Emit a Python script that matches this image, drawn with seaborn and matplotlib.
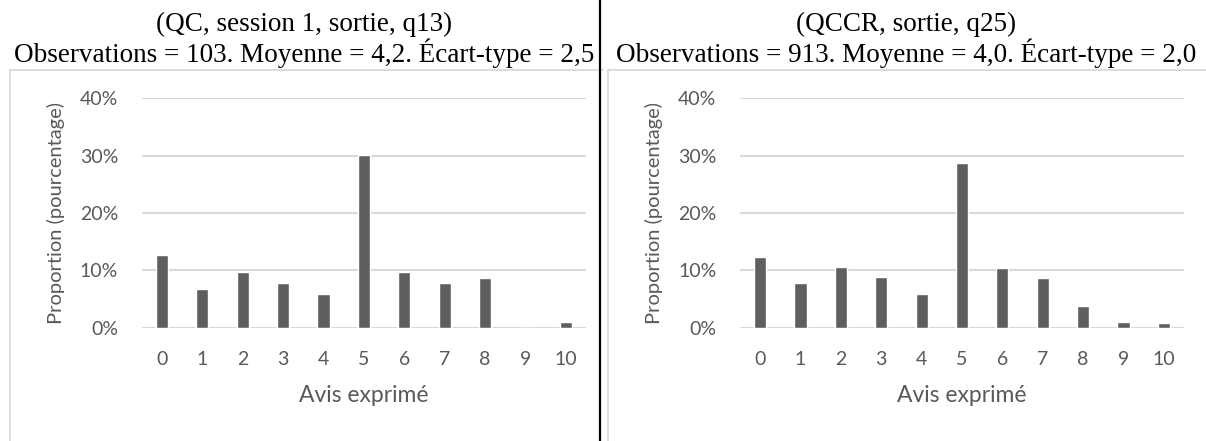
import numpy as np
import pandas as pd
import matplotlib
matplotlib.use('Agg')
import matplotlib.pyplot as plt
import seaborn as sns
from matplotlib.ticker import PercentFormatter
from matplotlib.lines import Line2D

# avis 0..10
avis = [str(i) for i in range(11)]

# proportions (en %)
qc_session1 = [12.6, 6.8, 9.7, 7.8, 5.8, 30.1, 9.7, 7.8, 8.7, 0.0, 0.97]
qccr_sortie = [12.3, 7.8, 10.6, 8.8, 5.8, 28.7, 10.4, 8.7, 3.8, 0.95, 0.85]

titres = ['(QC, session 1, sortie, q13)\nObservations = 103. Moyenne = 4,2. Écart-type = 2,5',
          '(QCCR, sortie, q25)\nObservations = 913. Moyenne = 4,0. Écart-type = 2,0']

sns.set_theme(style='white')
plt.rcParams['font.family'] = ['Lato', 'DejaVu Sans']

W, H = 1206, 441
fig = plt.figure(figsize=(W / 100, H / 100), dpi=100)

gris_txt = '#595959'
gris_grille = '#d9d9d9'
gris_barre = '#5f5f5f'

# cadres des deux graphiques
for x0, x1 in [(10, 603), (608, 1210)]:
    fig.add_artist(Line2D([x0 / W, x0 / W, x1 / W], [0, 1 - 70 / H, 1 - 70 / H],
                          transform=fig.transFigure, color=gris_grille, lw=1.3))

# séparateur
fig.add_artist(Line2D([600 / W, 600 / W], [0, 1], transform=fig.transFigure,
                      color='black', lw=1.6))

positions = [(141.7, 586), (740, 1184)]
series = [qc_session1, qccr_sortie]
centres = [304, 906]

for (xa, xb), vals, titre, cx in zip(positions, series, titres, centres):
    ax = fig.add_axes([xa / W, 1 - 327.7 / H, (xb - xa) / W, (327.7 - 98.3) / H])
    df = pd.DataFrame({'avis': avis, 'prop': np.array(vals) / 100})
    sns.barplot(data=df, x='avis', y='prop', color=gris_barre, width=0.3,
                saturation=1, ax=ax, zorder=3)
    ax.set_ylim(0, 0.40)
    ax.set_xlim(-0.5, 10.5)
    ax.set_yticks([0, 0.1, 0.2, 0.3, 0.4])
    ax.yaxis.set_major_formatter(PercentFormatter(1.0, decimals=0))
    ax.grid(axis='y', color=gris_grille, lw=1.5, zorder=0)
    ax.grid(axis='x', visible=False)
    for s in ax.spines.values():
        s.set_visible(False)
    ax.tick_params(axis='both', length=0, labelsize=14, labelcolor=gris_txt)
    ax.tick_params(axis='y', pad=17)
    ax.tick_params(axis='x', pad=17)
    ax.set_xlabel('Avis exprimé', fontsize=16.5, color=gris_txt)
    ax.set_ylabel('Proportion (pourcentage)', fontsize=14.5, color=gris_txt)
    ax.xaxis.set_label_coords(0.5, -0.25)
    ax.yaxis.set_label_coords(-0.173, 0.5)
    fig.text(cx / W, 1 - 12 / H, titre, ha='center', va='top', fontsize=19.5,
             family='Liberation Serif', color='black', linespacing=1.05)

fig.savefig('out.png', dpi=100, facecolor='white')
